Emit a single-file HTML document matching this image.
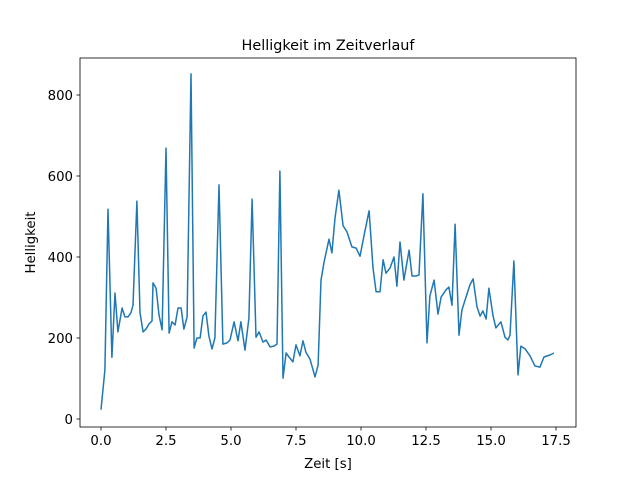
<!DOCTYPE html>
<html><head><meta charset="utf-8"><style>
body{margin:0;background:#fff}
svg text{font-family:"DejaVu Sans","Liberation Sans",sans-serif;fill:#000}
</style></head><body>
<svg id="chart" width="640" height="480" viewBox="0 0 640 480">
<rect width="640" height="480" fill="#fff"/>
<text x="328" y="50" text-anchor="middle" font-size="14.4">Helligkeit im Zeitverlauf</text>
<g id="xticks"></g>
<g id="yticks"></g>
<path id="line" fill="none" stroke="#1f77b4" stroke-width="1.5" stroke-linejoin="round"/>
<rect x="80" y="58" width="496" height="369" fill="none" stroke="#000" stroke-width="0.8"/>
<text x="328" y="468" text-anchor="middle" font-size="13.3">Zeit [s]</text>
<text transform="translate(35,242.5) rotate(-90)" text-anchor="middle" font-size="13.3">Helligkeit</text>
</svg>
<script>
const times=[0,0.15,0.27,0.42,0.54,0.65,0.81,0.92,1.04,1.15,1.23,1.38,1.50,1.62,1.73,1.85,1.96,2.00,2.12,2.23,2.35,2.50,2.62,2.73,2.85,2.96,3.08,3.19,3.31,3.46,3.58,3.69,3.81,3.92,4.04,4.15,4.27,4.38,4.54,4.69,4.85,4.96,5.12,5.27,5.38,5.54,5.69,5.81,5.96,6.08,6.23,6.35,6.50,6.65,6.77,6.88,7.00,7.12,7.23,7.38,7.50,7.65,7.77,7.88,8.04,8.23,8.35,8.46,8.58,8.77,8.88,9.00,9.15,9.31,9.46,9.65,9.81,9.96,10.12,10.31,10.46,10.58,10.73,10.85,10.96,11.12,11.27,11.38,11.50,11.65,11.85,11.96,12.12,12.23,12.38,12.54,12.65,12.81,12.96,13.08,13.27,13.38,13.50,13.62,13.77,13.88,14.04,14.19,14.31,14.46,14.58,14.69,14.81,14.92,15.08,15.19,15.38,15.54,15.65,15.73,15.88,16.04,16.15,16.31,16.50,16.69,16.88,17.04,17.27,17.42];
const brightness=[23,121,518,152,311,215,274,252,252,262,281,538,262,215,222,235,242,336,323,257,220,669,212,240,232,274,274,222,252,852,175,200,200,254,264,205,173,200,578,185,188,195,240,193,240,170,249,543,202,215,190,195,178,180,185,612,101,163,153,141,183,156,193,165,148,104,133,343,388,444,410,496,565,477,462,425,422,402,454,514,373,314,314,393,360,373,400,328,437,343,417,353,353,356,556,188,304,343,259,301,319,326,281,481,207,269,301,331,346,277,254,267,247,323,254,225,240,202,195,207,390,109,180,173,156,131,128,153,158,163];
const xTickVals=[0,2.5,5,7.5,10,12.5,15,17.5];
const xTickLabels=["0.0","2.5","5.0","7.5","10.0","12.5","15.0","17.5"];
const yTickVals=[0,200,400,600,800];
const yTickLabels=["0","200","400","600","800"];
const X=t=>101+t*26, Y=v=>419-v*0.405;
const NS="http://www.w3.org/2000/svg";
const xg=document.getElementById('xticks'), yg=document.getElementById('yticks');
xTickVals.forEach((t,i)=>{
  const l=document.createElementNS(NS,'line');
  l.setAttribute('x1',X(t));l.setAttribute('x2',X(t));l.setAttribute('y1',427);l.setAttribute('y2',430.5);l.setAttribute('stroke','#000');l.setAttribute('stroke-width','0.8');
  
  
  xg.appendChild(l);
  const tx=document.createElementNS(NS,'text');
  tx.setAttribute('x',X(t));tx.setAttribute('y',445);tx.setAttribute('text-anchor','middle');tx.setAttribute('font-size','13.3');
  tx.textContent=xTickLabels[i];
  
  
  xg.appendChild(tx);
});
yTickVals.forEach((v,i)=>{
  const l=document.createElementNS(NS,'line');
  l.setAttribute('x1',76.5);l.setAttribute('x2',80);l.setAttribute('y1',Y(v));l.setAttribute('y2',Y(v));l.setAttribute('stroke','#000');l.setAttribute('stroke-width','0.8');
  
  
  yg.appendChild(l);
  const tx=document.createElementNS(NS,'text');
  tx.setAttribute('x',73);tx.setAttribute('y',Y(v)+5);tx.setAttribute('text-anchor','end');tx.setAttribute('font-size','13.3');
  tx.textContent=yTickLabels[i];
  
  
  yg.appendChild(tx);
});
document.getElementById('line').setAttribute('d',times.map((t,i)=>(i?'L':'M')+X(t).toFixed(1)+','+Y(brightness[i]).toFixed(1)).join(''));
</script>
</body></html>
